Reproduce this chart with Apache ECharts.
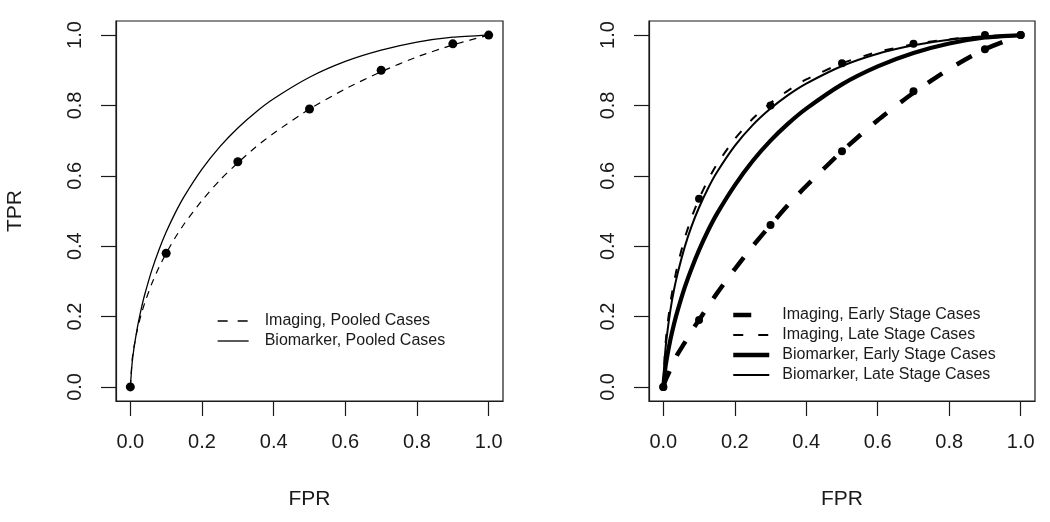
<!DOCTYPE html>
<html>
<head>
<meta charset="utf-8">
<script src="https://cdn.jsdelivr.net/npm/echarts@6/dist/echarts.min.js"></script>
<style>
  html, body { margin: 0; padding: 0; background: #fff; }
  #chart { width: 1050px; height: 522px; }
</style>
</head>
<body>
<div id="chart"></div>
<script>
// ---------- tick labels ----------
const tickValues = [0, 0.2, 0.4, 0.6, 0.8, 1.0];

// ---------- shared FPR positions at which the curves were read ----------
const curveFpr = [0, 0.005, 0.01, 0.02, 0.03, 0.04, 0.06, 0.08, 0.1, 0.125, 0.15, 0.2, 0.25, 0.3, 0.35, 0.4, 0.5, 0.6, 0.7, 0.8, 0.9, 1.0];

// ---------- left panel: pooled cases ----------
const pooledPointFpr = [0, 0.1, 0.3, 0.5, 0.7, 0.9, 1.0];
const imagingPooledPointTpr = [0, 0.38, 0.64, 0.79, 0.90, 0.975, 1.0];

const imagingPooledCurveTpr   = [0, 0.077, 0.113, 0.165, 0.205, 0.238, 0.294, 0.340, 0.380, 0.424, 0.463, 0.530, 0.588, 0.637, 0.682, 0.721, 0.790, 0.847, 0.896, 0.938, 0.972, 1.0];
const biomarkerPooledCurveTpr = [0, 0.068, 0.109, 0.171, 0.220, 0.262, 0.332, 0.390, 0.440, 0.494, 0.541, 0.619, 0.683, 0.736, 0.781, 0.819, 0.880, 0.925, 0.957, 0.980, 0.994, 1.0];

// ---------- right panel: by stage ----------
const stagePointFpr = [0, 0.1, 0.3, 0.5, 0.7, 0.9, 1.0];
const imagingEarlyPointTpr = [0, 0.19, 0.46, 0.67, 0.84, 0.96, 1.0];
const imagingLatePointTpr  = [0, 0.535, 0.80, 0.92, 0.975, 1.0, 1.0];

const imagingEarlyCurveTpr   = [0, 0.016, 0.028, 0.05, 0.072, 0.093, 0.126, 0.16, 0.19, 0.229, 0.266, 0.335, 0.40, 0.46, 0.518, 0.571, 0.67, 0.758, 0.836, 0.904, 0.96, 1.0];
const imagingLateCurveTpr    = [0, 0.107, 0.162, 0.24, 0.298, 0.346, 0.423, 0.484, 0.535, 0.588, 0.633, 0.705, 0.762, 0.807, 0.843, 0.874, 0.92, 0.952, 0.974, 0.988, 0.997, 1.0];
const biomarkerEarlyCurveTpr = [0, 0.049, 0.082, 0.135, 0.179, 0.217, 0.283, 0.339, 0.389, 0.444, 0.492, 0.573, 0.642, 0.70, 0.749, 0.791, 0.86, 0.911, 0.949, 0.976, 0.993, 1.0];
const biomarkerLateCurveTpr  = [0, 0.094, 0.145, 0.219, 0.276, 0.322, 0.398, 0.459, 0.51, 0.564, 0.61, 0.685, 0.744, 0.791, 0.83, 0.862, 0.912, 0.947, 0.971, 0.987, 0.996, 1.0];

const leftLegendNames = ['Imaging, Pooled Cases', 'Biomarker, Pooled Cases'];
const rightLegendNames = ['Imaging, Early Stage Cases', 'Imaging, Late Stage Cases', 'Biomarker, Early Stage Cases', 'Biomarker, Late Stage Cases'];

// ---------- helpers ----------
const zip = (xs, ys) => xs.map((x, i) => [x, ys[i]]);
const FONT = '"Liberation Sans", Arial, sans-serif';
const INK = '#1a1a1a';

function makeXAxis(gridIndex) {
  return {
    type: 'value', gridIndex, min: -0.04, max: 1.04,
    name: 'FPR', nameLocation: 'middle', nameGap: 88,
    nameTextStyle: { fontFamily: FONT, fontSize: 21, color: INK },
    splitLine: { show: false },
    axisLine: { show: true, onZero: false, lineStyle: { color: INK, width: 1.2 } },
    axisTick: { show: true, customValues: tickValues, length: 15, lineStyle: { color: INK, width: 1.2 } },
    axisLabel: { customValues: tickValues, margin: 31, fontFamily: FONT, fontSize: 20, color: INK,
                 formatter: v => v.toFixed(1) }
  };
}
function makeYAxis(gridIndex, withName) {
  return {
    type: 'value', gridIndex, min: -0.04, max: 1.04,
    name: withName ? 'TPR' : '', nameLocation: 'middle', nameGap: 90,
    nameTextStyle: { fontFamily: FONT, fontSize: 21, color: INK },
    splitLine: { show: false },
    axisLine: { show: true, onZero: false, lineStyle: { color: INK, width: 1.2 } },
    axisTick: { show: true, customValues: tickValues, length: 15, lineStyle: { color: INK, width: 1.2 } },
    axisLabel: { customValues: tickValues, rotate: 90, margin: 31, fontFamily: FONT, fontSize: 20, color: INK,
                 formatter: v => v.toFixed(1) }
  };
}
function lineSeries(name, idx, xs, ys, width, dash) {
  return {
    name, type: 'line', xAxisIndex: idx, yAxisIndex: idx,
    data: zip(xs, ys), symbol: 'none', smooth: 0.2,
    lineStyle: { color: '#000', width, type: dash || 'solid' },
    itemStyle: { color: '#000' }, silent: true, animation: false, z: 3
  };
}
function dotSeries(idx, xs, ys, size) {
  return {
    type: 'scatter', xAxisIndex: idx, yAxisIndex: idx,
    data: zip(xs, ys), symbol: 'circle', symbolSize: size,
    itemStyle: { color: '#000', opacity: 1 }, silent: true, animation: false, z: 4
  };
}
function legendItem(name, width, dash) {
  return { name, lineStyle: { width, type: dash || 'solid', color: '#000' } };
}

const option = {
  backgroundColor: '#fff',
  animation: false,
  grid: [
    { left: 116, top: 21, width: 387, height: 380, show: true, borderColor: INK, borderWidth: 1.2, backgroundColor: 'transparent' },
    { left: 649, top: 21, width: 386, height: 380, show: true, borderColor: INK, borderWidth: 1.2, backgroundColor: 'transparent' }
  ],
  xAxis: [makeXAxis(0), makeXAxis(1)],
  yAxis: [makeYAxis(0, true), makeYAxis(1, false)],
  legend: [
    {
      data: [
        legendItem(leftLegendNames[0], 1.3, [10, 10]),
        legendItem(leftLegendNames[1], 1.3)
      ],
      orient: 'vertical', left: 217, top: 313, padding: 0,
      itemWidth: 31, itemHeight: 14, itemGap: 4, selectedMode: false,
      itemStyle: { opacity: 0 },
      textStyle: { fontFamily: FONT, fontSize: 16, color: INK, padding: [0, 0, 0, 11] }
    },
    {
      data: [
        legendItem(rightLegendNames[0], 4.5, [18, 30]),
        legendItem(rightLegendNames[1], 2, [10, 15]),
        legendItem(rightLegendNames[2], 4.5),
        legendItem(rightLegendNames[3], 2)
      ],
      orient: 'vertical', left: 731, top: 307, padding: 0,
      itemWidth: 36, itemHeight: 14, itemGap: 4, selectedMode: false,
      itemStyle: { opacity: 0 },
      textStyle: { fontFamily: FONT, fontSize: 16, color: INK, padding: [0, 0, 0, 8] }
    }
  ],
  series: [
    lineSeries(leftLegendNames[0], 0, curveFpr, imagingPooledCurveTpr, 1.2, [7, 6]),
    lineSeries(leftLegendNames[1], 0, curveFpr, biomarkerPooledCurveTpr, 1.3),
    dotSeries(0, pooledPointFpr, imagingPooledPointTpr, 9),

    lineSeries(rightLegendNames[0], 1, curveFpr, imagingEarlyCurveTpr, 4.5, [17, 17]),
    lineSeries(rightLegendNames[1], 1, curveFpr, imagingLateCurveTpr, 2, [9, 13]),
    lineSeries(rightLegendNames[2], 1, curveFpr, biomarkerEarlyCurveTpr, 4.2),
    lineSeries(rightLegendNames[3], 1, curveFpr, biomarkerLateCurveTpr, 2),
    dotSeries(1, stagePointFpr, imagingEarlyPointTpr, 8),
    dotSeries(1, stagePointFpr, imagingLatePointTpr, 8)
  ]
};

const chart = echarts.init(document.getElementById('chart'), null, { renderer: 'canvas' });
chart.setOption(option);
</script>
</body>
</html>
